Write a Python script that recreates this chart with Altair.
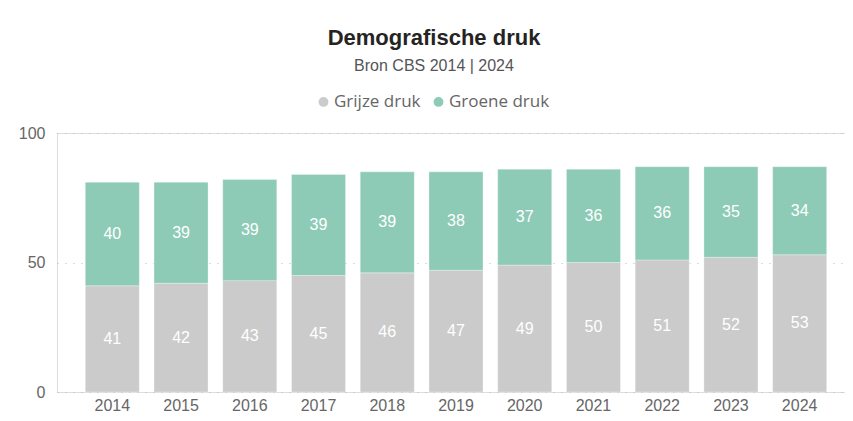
import altair as alt
import pandas as pd

years = ["2014", "2015", "2016", "2017", "2018", "2019", "2020", "2021", "2022", "2023", "2024"]
grijze = [41, 42, 43, 45, 46, 47, 49, 50, 51, 52, 53]
groene = [40, 39, 39, 39, 39, 38, 37, 36, 36, 35, 34]
series = ["Grijze druk", "Groene druk"]
colors = ["#cbcbcb", "#8ecbb7"]

rows = []
for i, y in enumerate(years):
    rows.append({"year": y, "serie": series[0], "value": grijze[i], "ord": 0})
    rows.append({"year": y, "serie": series[1], "value": groene[i], "ord": 1})
df = pd.DataFrame(rows)

base = alt.Chart(df).transform_stack(
    stack="value", as_=["y0", "y1"], groupby=["year"], sort=[alt.SortField("ord")]
)

xenc = alt.X(
    "year:N",
    sort=years,
    title=None,
    scale=alt.Scale(paddingInner=0.214, paddingOuter=0.339, align=0.607),
    axis=alt.Axis(labelAngle=0, domain=False, ticks=False, labelPadding=5,
                  labelFont="Liberation Sans", labelFontSize=16, labelColor="#666666"),
)

bars = base.mark_bar(stroke="#ffffff", strokeWidth=0.5, strokeOpacity=0.6).encode(
    x=xenc,
    y=alt.Y("y0:Q", title=None, scale=alt.Scale(domain=[0, 100]),
            axis=alt.Axis(values=[0, 50, 100], domain=False, ticks=False, labelPadding=12,
                          gridDash=[1, 7], gridColor="#bbbbbb", gridWidth=1.2,
                          labelFont="Liberation Sans", labelFontSize=16, labelColor="#666666")),
    y2="y1:Q",
    color=alt.Color("serie:N", scale=alt.Scale(domain=series, range=colors),
                    legend=alt.Legend(title=None, orient="none", legendX=258, legendY=-40,
                                      direction="horizontal", symbolType="circle",
                                      symbolSize=130, labelFont="Open Sans", labelFontSize=17,
                                      labelColor="#666666", labelOffset=2, columnPadding=8)),
)

labels = base.transform_calculate(mid="(datum.y0 + datum.y1) / 2").mark_text(
    color="white", font="Liberation Sans", fontSize=16, baseline="middle"
).encode(
    x=alt.X("year:N", sort=years),
    y=alt.Y("mid:Q"),
    text=alt.Text("value:Q"),
)

chart = alt.layer(bars, labels).properties(
    width=788,
    height=259,
    autosize=alt.AutoSizeParams(type="none"),
    padding={"left": 49, "top": 125, "right": 0, "bottom": 21},
    title=alt.TitleParams(
        text="Demografische druk",
        subtitle="Bron CBS 2014 | 2024",
        anchor="middle",
        dx=-17,
        font="Liberation Sans",
        fontSize=22,
        fontWeight="bold",
        color="#252423",
        subtitleFont="Liberation Sans",
        subtitleFontSize=16,
        subtitleColor="#555555",
        subtitlePadding=8,
        offset=18,
    ),
).configure_view(stroke=None).configure(background="white")

chart.save("out.html", embed_options={"renderer": "svg", "actions": False})
